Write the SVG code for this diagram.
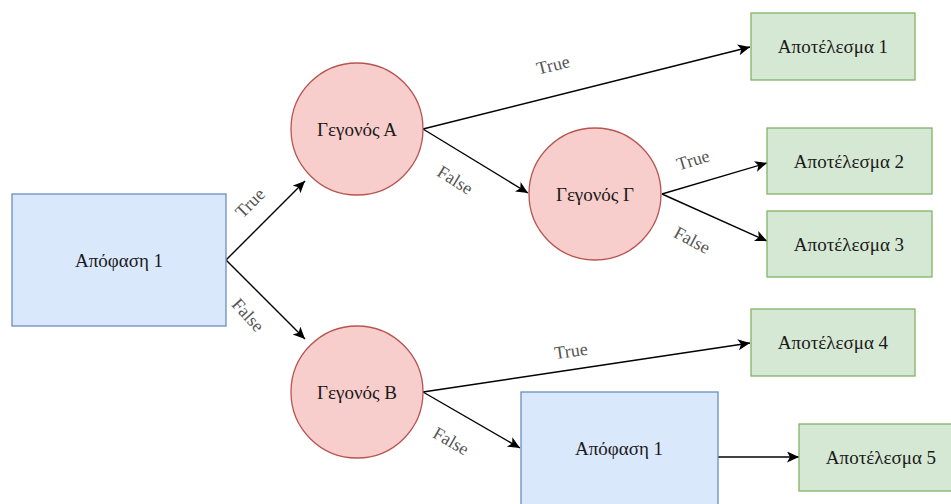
<svg xmlns="http://www.w3.org/2000/svg" width="951" height="504" viewBox="0 0 951 504">
  <style>
    .decision { fill: #dae8fc; stroke: #6c8ebf; stroke-width: 1.3; }
    .event { fill: #f8cecc; stroke: #b85450; stroke-width: 1.3; }
    .result { fill: #d5e8d4; stroke: #82b366; stroke-width: 1.3; }
    .txt { font-family: "Liberation Serif", "DejaVu Serif", serif; font-size: 19px; fill: #1a1a1a; text-anchor: middle; dominant-baseline: central; }
    .lbl { font-family: "Liberation Serif", "DejaVu Serif", serif; font-size: 18px; fill: #555555; text-anchor: middle; dominant-baseline: central; }
    .edge { stroke: #000000; stroke-width: 1.4; fill: none; marker-end: url(#arrow); }
  </style>
  <defs>
    <marker id="arrow" markerUnits="userSpaceOnUse" markerWidth="14" markerHeight="12" refX="12" refY="5.5" orient="auto">
      <path d="M0,0 L12,5.5 L0,11 L3,5.5 Z" fill="#000000"/>
    </marker>
  </defs>
  <rect width="951" height="504" fill="#ffffff"/>

  <g id="connectors">
    <line class="edge" x1="226" y1="260" x2="305" y2="181"/>
    <line class="edge" x1="226" y1="260" x2="305" y2="339"/>
    <line class="edge" x1="423" y1="129" x2="750" y2="47"/>
    <line class="edge" x1="423" y1="129" x2="528" y2="193"/>
    <line class="edge" x1="662" y1="194" x2="767" y2="163"/>
    <line class="edge" x1="662" y1="194" x2="767" y2="241"/>
    <line class="edge" x1="423" y1="392" x2="750" y2="343"/>
    <line class="edge" x1="423" y1="392" x2="520" y2="448"/>
    <line class="edge" x1="718" y1="457" x2="799" y2="457"/>

    <text class="lbl" transform="translate(250,203) rotate(-45)">True</text>
    <text class="lbl" transform="translate(248,315) rotate(48)">False</text>
    <text class="lbl" transform="translate(553,65) rotate(-14)">True</text>
    <text class="lbl" transform="translate(455,180) rotate(32)">False</text>
    <text class="lbl" transform="translate(693,160) rotate(-17)">True</text>
    <text class="lbl" transform="translate(692,240) rotate(28)">False</text>
    <text class="lbl" transform="translate(571,351) rotate(-8)">True</text>
    <text class="lbl" transform="translate(451,441) rotate(30)">False</text>
  </g>

  <g id="decision-1">
    <rect class="decision" x="12" y="194" width="214" height="132"/>
    <text class="txt" x="119" y="260">Απόφαση 1</text>
  </g>
  <g id="event-a">
    <circle class="event" cx="357" cy="129" r="66"/>
    <text class="txt" x="357" y="129">Γεγονός Α</text>
  </g>
  <g id="event-b">
    <circle class="event" cx="357" cy="392" r="66"/>
    <text class="txt" x="357" y="392">Γεγονός Β</text>
  </g>
  <g id="event-g">
    <circle class="event" cx="595" cy="194" r="66"/>
    <text class="txt" x="595" y="194">Γεγονός Γ</text>
  </g>
  <g id="result-1">
    <rect class="result" x="751" y="13" width="164" height="67"/>
    <text class="txt" x="833" y="46">Αποτέλεσμα 1</text>
  </g>
  <g id="result-2">
    <rect class="result" x="767" y="128" width="165" height="66"/>
    <text class="txt" x="849" y="161">Αποτέλεσμα 2</text>
  </g>
  <g id="result-3">
    <rect class="result" x="767" y="211" width="165" height="66"/>
    <text class="txt" x="849" y="244">Αποτέλεσμα 3</text>
  </g>
  <g id="result-4">
    <rect class="result" x="751" y="309" width="164" height="67"/>
    <text class="txt" x="833" y="342">Αποτέλεσμα 4</text>
  </g>
  <g id="decision-2">
    <rect class="decision" x="521" y="392" width="197" height="120"/>
    <text class="txt" x="619" y="448">Απόφαση 1</text>
  </g>
  <g id="result-5">
    <rect class="result" x="799" y="424" width="165" height="67"/>
    <text class="txt" x="881" y="457">Αποτέλεσμα 5</text>
  </g>
</svg>
